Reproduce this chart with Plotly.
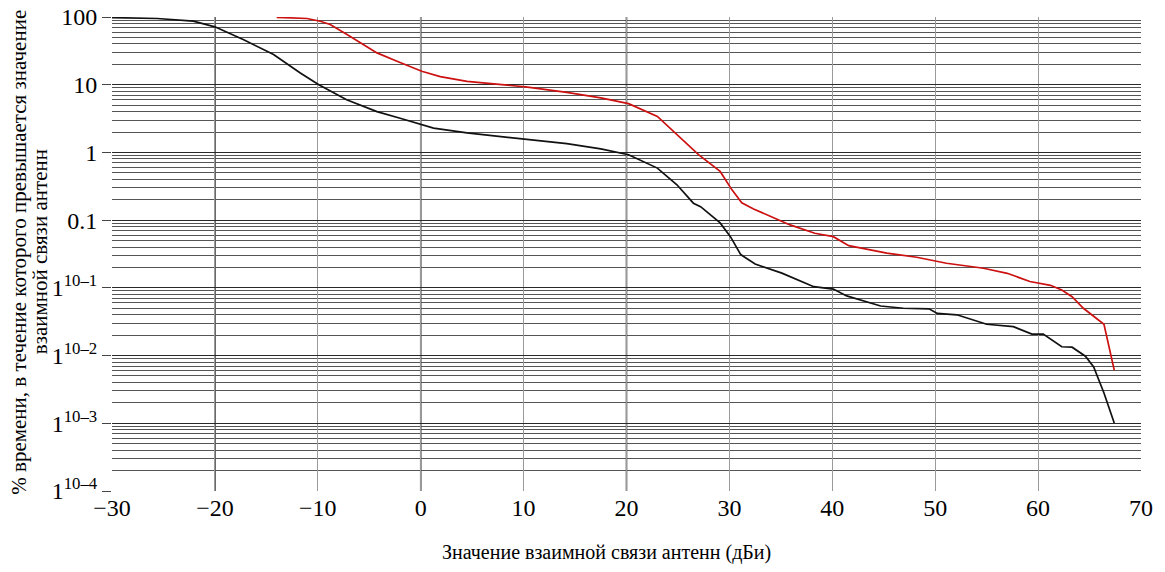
import plotly.graph_objects as go

# Black curve
black_x = [-30, -25.6, -22.1, -20, -17.2, -14.3, -11.7, -9.9, -7.2, -4.25, -2.0, 0.1, 1.25, 4.5, 10.2, 14.2, 17.5, 20.2,
           23.0, 24.9, 26.5, 27.2, 29.1, 30.1, 31.1, 32.5, 35.1, 36.9, 38.2, 40.1, 41.4, 44.7, 46.9, 49.4, 50.2, 52.1,
           55.0, 57.6, 59.4, 60.5, 62.3, 63.3, 64.6, 65.4, 66.4, 67.4]
black_y = [98, 95, 86.7, 71.6, 46, 27.9, 14.9, 10, 6.0, 4.0, 3.2, 2.57, 2.29, 1.94, 1.58, 1.35, 1.13, 0.925,
           0.587, 0.333, 0.178, 0.158, 0.091, 0.057, 0.031, 0.0225, 0.0165, 0.0128, 0.0104, 0.0096, 0.0076, 0.0054,
           0.005, 0.0049, 0.0042, 0.004, 0.0029, 0.00267, 0.00208, 0.00208, 0.00135, 0.00133, 0.00098, 0.00068,
           0.00028, 0.000101]

# Red curve
red_x = [-14.0, -11.05, -9.76, -8.8, -7.16, -5.87, -4.25, -2.3, 0.1, 1.9, 4.5, 10.2, 14.2, 17.5, 20.2, 23.0, 24.9,
         27.0, 29.1, 30.25, 31.2, 32.35, 35.9, 38.3, 40.1, 41.6, 45.3, 48.2, 51.1, 54.7, 57.0, 59.2, 61.2, 62.3,
         63.3, 64.4, 66.4, 67.4]
red_y = [99, 95, 86.7, 77.4, 55, 41.5, 29.5, 22.2, 15.8, 13.2, 11.2, 9.27, 7.7, 6.4, 5.25, 3.4, 1.83,
         0.925, 0.524, 0.28, 0.18, 0.146, 0.085, 0.064, 0.057, 0.042, 0.0325, 0.0283, 0.0231, 0.0195, 0.0164,
         0.0124, 0.0109, 0.0093, 0.0074, 0.005, 0.0029, 0.00061]

x_ticks = [-30, -20, -10, 0, 10, 20, 30, 40, 50, 60, 70]
x_ticktext = ["\u221230", "\u221220", "\u221210", "0", "10", "20", "30", "40", "50", "60", "70"]
x_dark = [-20, 0, 20]

y_ticks = [100, 10, 1, 0.1, 0.01, 0.001, 0.0001, 0.00001]
y_ticktext = ["100", "10", "1", "0.1", "1<sup>10\u20131</sup>", "1<sup>10\u20132</sup>",
              "1<sup>10\u20133</sup>", "1<sup>10\u20134</sup>"]

x_title = "Значение взаимной связи антенн (дБи)"
y_title_1 = "% времени, в течение которого превышается значение"
y_title_2 = "взаимной связи антенн"

FONT = "Liberation Serif, Times New Roman, serif"

minor_vals = []
for d in [1e-5, 1e-4, 1e-3, 1e-2, 1e-1, 1, 10]:
    for k in range(2, 10):
        minor_vals.append(k * d)

fig = go.Figure()
fig.add_trace(go.Scatter(x=black_x, y=black_y, mode="lines",
                         line=dict(color="#111111", width=1.7), showlegend=False))
fig.add_trace(go.Scatter(x=red_x, y=red_y, mode="lines",
                         line=dict(color="#cc1111", width=1.7), showlegend=False))

for xv in x_dark:
    fig.add_shape(type="line", xref="x", yref="paper", x0=xv, x1=xv, y0=0, y1=1,
                  line=dict(color="#1a1a1a", width=1.5), layer="below")

fig.update_layout(
    width=1165, height=572,
    margin=dict(l=112, r=24, t=17, b=81, autoexpand=False),
    paper_bgcolor="white", plot_bgcolor="white",
    font=dict(family=FONT, color="black"),
    xaxis=dict(
        range=[-30, 70], tickvals=x_ticks, ticktext=x_ticktext,
        showgrid=True, gridcolor="#9a9a9a", gridwidth=1,
        zeroline=False, showline=False, ticks="", automargin=False,
        tickfont=dict(family=FONT, size=24, color="black"),
    ),
    yaxis=dict(
        type="log", range=[-5, 2], tickvals=y_ticks, ticktext=y_ticktext,
        showgrid=True, gridcolor="#2a2a2a", gridwidth=1.2,
        zeroline=False, showline=False, automargin=False,
        ticks="outside", ticklen=9, tickcolor="#444444", tickwidth=1,
        tickfont=dict(family=FONT, size=24, color="black"),
        minor=dict(tickmode="array", tickvals=minor_vals, showgrid=True,
                   gridcolor="#555555", gridwidth=1, ticks=""),
    ),
    annotations=[
        dict(text=x_title, xref="paper", yref="paper", x=0.4806, y=-0.1287,
             xanchor="center", yanchor="middle", showarrow=False,
             font=dict(family=FONT, size=20, color="black")),
        dict(text=y_title_1, xref="paper", yref="paper", x=-0.0907, y=0.504,
             xanchor="center", yanchor="middle", showarrow=False, textangle=-90,
             font=dict(family=FONT, size=21, color="black")),
        dict(text=y_title_2, xref="paper", yref="paper", x=-0.0698, y=0.504,
             xanchor="center", yanchor="middle", showarrow=False, textangle=-90,
             font=dict(family=FONT, size=21, color="black")),
    ],
)

fig.write_html("out.html", config={"displayModeBar": False},
               post_script="document.body.style.margin='0';")
